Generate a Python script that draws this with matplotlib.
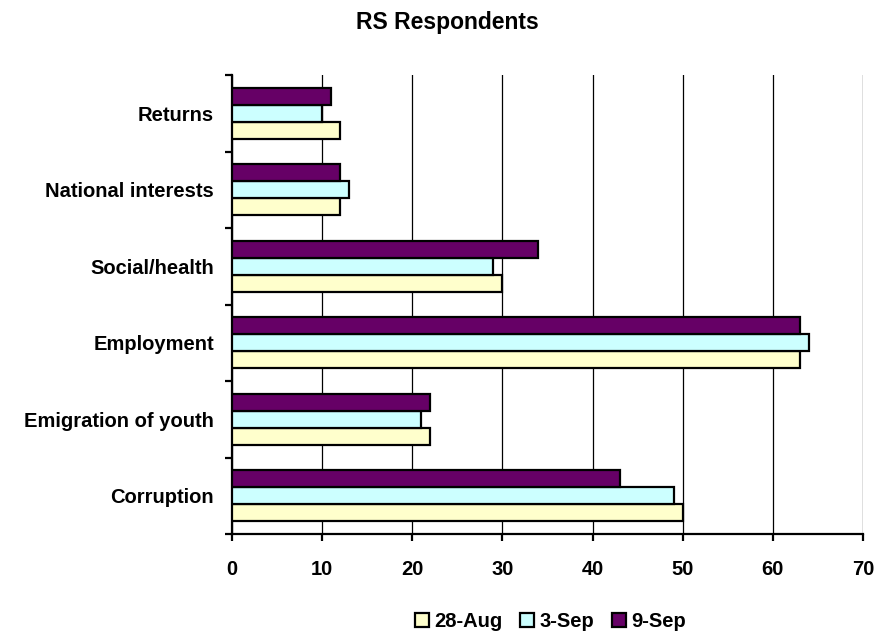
import numpy as np
import matplotlib.pyplot as plt

plt.rcParams['font.family'] = ['Liberation Sans', 'DejaVu Sans']
plt.rcParams['font.weight'] = 'bold'

categories = ['Corruption', 'Emigration of youth', 'Employment',
              'Social/health', 'National interests', 'Returns']
aug28 = [50, 22, 63, 30, 12, 12]
sep3 = [49, 21, 64, 29, 13, 10]
sep9 = [43, 22, 63, 34, 12, 11]

series = [('28-Aug', aug28, '#FFFFCC'),
          ('3-Sep', sep3, '#CCFFFF'),
          ('9-Sep', sep9, '#660066')]

fig = plt.figure(figsize=(8.92, 6.33), dpi=100)
ax = fig.add_axes([0.260, 0.1564, 0.7075, 0.725])

y = np.arange(len(categories))
h = 0.222
for i, (name, vals, col) in enumerate(series):
    ax.barh(y + (i - 1) * h, vals, height=h, color=col, edgecolor='black',
            linewidth=1.6, label=name, zorder=3)

ax.set_xlim(0, 70)
ax.set_ylim(-0.5, len(categories) - 0.5)
ax.set_xticks(range(0, 71, 10))
ax.xaxis.grid(True, color='black', linewidth=0.9, zorder=0)

ax.set_yticks(y)
ax.set_yticklabels(categories, fontsize=14.5, fontweight='bold')
ax.set_yticks(np.arange(-0.5, len(categories), 1.0), minor=True)
ax.tick_params(axis='y', which='major', length=0, pad=13)
ax.tick_params(axis='y', which='minor', length=5, width=1.6, direction='out')
ax.tick_params(axis='x', length=5, width=1.6, direction='out', labelsize=14.5, pad=14)
for lab in ax.get_xticklabels():
    lab.set_fontweight('bold')

ax.spines['top'].set_visible(False)
ax.spines['right'].set_visible(False)
ax.spines['left'].set_linewidth(1.6)
ax.spines['bottom'].set_linewidth(1.6)

fig.suptitle('RS Respondents', x=0.501, y=0.965, va='center',
             fontsize=16.5, fontweight='bold')

# legend sits below the plot, a little right of centre
fig.legend(loc='center left', bbox_to_anchor=(0.465, 0.0174), ncol=3,
           frameon=False, borderpad=0, borderaxespad=0,
           fontsize=14.5, handlelength=0.7, handleheight=0.7,
           handletextpad=0.25, columnspacing=0.9)

fig.savefig('out.png', dpi=100)
